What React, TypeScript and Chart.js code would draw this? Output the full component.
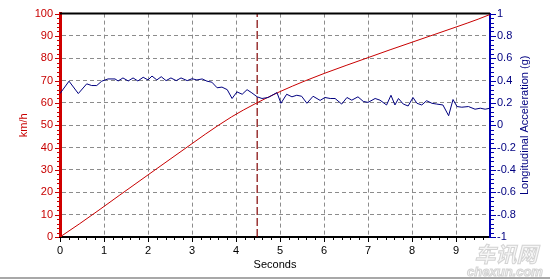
import React, { useEffect, useRef } from "react";
import { Chart, registerables } from "chart.js";

Chart.register(...registerables);

// ---- data ----
const speedTime = [0, 0.45, 0.91, 1.36, 2.0, 2.5, 3.0, 3.3, 3.9, 4.43, 5.0, 5.57, 6.0, 6.5, 7.0, 7.5, 8.0, 8.5, 9.0, 9.5, 9.77];
const speedKmh = [0, 6.0, 12.4, 18.8, 27.8, 34.8, 41.8, 46.0, 53.8, 59.6, 65.1, 69.9, 73.2, 76.8, 80.3, 83.8, 87.2, 90.6, 94, 97.5, 99.6];

const accelTime = [
  0, 0.205, 0.416, 0.607, 0.72, 0.834, 0.948, 1.09, 1.25, 1.32, 1.43, 1.55, 1.66, 1.77, 1.89, 2.0, 2.09, 2.2, 2.3, 2.41,
  2.52, 2.64, 2.75, 2.89, 3.0, 3.11, 3.23, 3.34, 3.45, 3.57, 3.68, 3.8, 3.91, 4.02, 4.14, 4.25, 4.36, 4.48, 4.59, 4.73,
  4.93, 5.02, 5.15, 5.27, 5.38, 5.49, 5.61, 5.75, 5.91, 6.02, 6.14, 6.25, 6.4, 6.52, 6.63, 6.77, 6.89, 7.0, 7.16, 7.27,
  7.42, 7.52, 7.61, 7.69, 7.8, 7.91, 8.02, 8.11, 8.22, 8.33, 8.45, 8.56, 8.7, 8.83, 8.93, 9.02, 9.13, 9.28, 9.43, 9.55,
  9.66, 9.77,
];
const accelG = [
  0.284, 0.395, 0.284, 0.371, 0.356, 0.356, 0.395, 0.415, 0.415, 0.397, 0.424, 0.397, 0.424, 0.397, 0.43, 0.406, 0.441, 0.406, 0.435, 0.4,
  0.424, 0.4, 0.424, 0.4, 0.417, 0.406, 0.415, 0.395, 0.386, 0.336, 0.342, 0.319, 0.24, 0.299, 0.278, 0.319, 0.29, 0.255, 0.24, 0.249,
  0.293, 0.197, 0.278, 0.255, 0.269, 0.26, 0.197, 0.26, 0.223, 0.249, 0.24, 0.24, 0.19, 0.249, 0.225, 0.255, 0.214, 0.205, 0.24, 0.225,
  0.182, 0.269, 0.182, 0.24, 0.19, 0.173, 0.249, 0.197, 0.182, 0.22, 0.197, 0.19, 0.182, 0.086, 0.231, 0.168, 0.162, 0.168, 0.144, 0.153,
  0.144, 0.153,
];

const markerTime = [4.48, 4.48];
const markerSpeed = [0, 100];

const xTickValues = [0, 1, 2, 3, 4, 5, 6, 7, 8, 9];
const leftTickValues = [0, 10, 20, 30, 40, 50, 60, 70, 80, 90, 100];
const rightTickValues = [-1, -0.8, -0.6, -0.4, -0.2, 0, 0.2, 0.4, 0.6, 0.8, 1];

const xTitle = "Seconds";
const leftTitle = "km/h";
const rightTitle = "Longitudinal Acceleration (g)";

const FONT = "'Liberation Sans', Arial, sans-serif";
const RED = "#c80000";
const NAVY = "#000080";

const decorPlugin = {
  id: "decor",
  afterDraw(chart: any) {
    const { ctx, chartArea, scales } = chart;
    const x = scales.x, y = scales.y, y2 = scales.y2;
    ctx.save();
    // top border
    ctx.strokeStyle = "#000";
    ctx.lineWidth = 2;
    ctx.beginPath();
    ctx.moveTo(chartArea.left, chartArea.top);
    ctx.lineTo(chartArea.right, chartArea.top);
    ctx.stroke();

    ctx.lineWidth = 1;
    // bottom ticks (minor each 0.2 s)
    ctx.strokeStyle = "#000";
    ctx.beginPath();
    for (let i = 0; i <= 48; i++) {
      const v = i * 0.2;
      if (v > x.max) break;
      const px = Math.round(x.getPixelForValue(v)) + 0.5;
      const major = i % 5 === 0;
      ctx.moveTo(px, chartArea.bottom + 1);
      ctx.lineTo(px, chartArea.bottom + (major ? 5 : 3));
    }
    ctx.stroke();

    // left ticks (minor each 2)
    ctx.strokeStyle = RED;
    ctx.beginPath();
    for (let i = 0; i <= 50; i++) {
      const v = i * 2;
      const py = Math.round(y.getPixelForValue(v)) + 0.5;
      const major = i % 5 === 0;
      ctx.moveTo(chartArea.left - 1, py);
      ctx.lineTo(chartArea.left - (major ? 5 : 3), py);
    }
    ctx.stroke();

    // right ticks (minor each 0.04)
    ctx.strokeStyle = "#0000b0";
    ctx.beginPath();
    for (let i = 0; i <= 50; i++) {
      const v = -1 + i * 0.04;
      const py = Math.round(y2.getPixelForValue(v)) + 0.5;
      const major = i % 5 === 0;
      ctx.moveTo(chartArea.right + 1, py);
      ctx.lineTo(chartArea.right + (major ? 6 : 4), py);
    }
    ctx.stroke();

    // titles
    ctx.font = `11px ${FONT}`;
    ctx.textAlign = "center";
    ctx.textBaseline = "middle";
    ctx.fillStyle = "#000";
    ctx.fillText(xTitle, (chartArea.left + chartArea.right) / 2, 265);

    ctx.save();
    ctx.translate(24, (chartArea.top + chartArea.bottom) / 2);
    ctx.rotate(-Math.PI / 2);
    ctx.fillStyle = RED;
    ctx.fillText(leftTitle, 0, 0);
    ctx.restore();

    ctx.save();
    ctx.translate(525, (chartArea.top + chartArea.bottom) / 2);
    ctx.rotate(-Math.PI / 2);
    ctx.fillStyle = NAVY;
    ctx.fillText(rightTitle, 0, 0);
    ctx.restore();

    // watermark
    ctx.textAlign = "center";
    ctx.textBaseline = "alphabetic";
    ctx.font = `bold italic 21px 'Noto Sans CJK SC', sans-serif`;
    ctx.fillStyle = "rgba(245,245,245,0.85)";
    ctx.strokeStyle = "rgba(205,205,205,0.85)";
    ctx.lineWidth = 1;
    ctx.fillText("车讯网", 506, 262);
    ctx.strokeText("车讯网", 506, 262);
    ctx.font = `bold italic 13px ${FONT}`;
    ctx.fillText("chexun.com", 505, 276);
    ctx.strokeText("chexun.com", 505, 276);

    // frame line at bottom
    ctx.strokeStyle = "#a8a8a8";
    ctx.lineWidth = 2;
    ctx.beginPath();
    ctx.moveTo(0, 278);
    ctx.lineTo(550, 278);
    ctx.stroke();
    ctx.restore();
  },
};

export default function App() {
  const canvasRef = useRef<HTMLCanvasElement | null>(null);

  useEffect(() => {
    if (!canvasRef.current) return;
    const chart = new Chart(canvasRef.current, {
      type: "line",
      data: {
        datasets: [
          {
            label: "Acceleration",
            data: accelTime.map((t, i) => ({ x: t, y: accelG[i] })),
            xAxisID: "x",
            yAxisID: "y2",
            borderColor: NAVY,
            borderWidth: 1,
            pointRadius: 0,
            tension: 0,
          },
          {
            label: "Speed",
            data: speedTime.map((t, i) => ({ x: t, y: speedKmh[i] })),
            xAxisID: "x",
            yAxisID: "y",
            borderColor: RED,
            borderWidth: 1,
            pointRadius: 0,
            cubicInterpolationMode: "monotone",
          },
          {
            label: "Marker",
            data: markerTime.map((t, i) => ({ x: t, y: markerSpeed[i] })),
            xAxisID: "x",
            yAxisID: "y",
            borderColor: "#800000",
            borderWidth: 1.2,
            borderDash: [8, 3],
            pointRadius: 0,
          },
        ],
      },
      options: {
        animation: false,
        responsive: false,
        devicePixelRatio: 1,
        layout: { padding: { top: 8, left: 0, right: 0, bottom: 0 } },
        plugins: { legend: { display: false }, tooltip: { enabled: false } },
        scales: {
          x: {
            type: "linear",
            position: "bottom",
            min: 0,
            max: 9.77,
            afterBuildTicks: (s: any) => {
              s.ticks = xTickValues.map((v) => ({ value: v }));
            },
            afterFit: (s: any) => {
              s.height = 43;
            },
            ticks: {
              color: "#000",
              font: { family: FONT, size: 11 },
              padding: 7,
              maxRotation: 0,
              autoSkip: false,
              includeBounds: false,
            },
            grid: {
              color: "#8c8c8c",
              lineWidth: (c: any) => (c.tick && c.tick.value === 0 ? 0 : 1),
              drawTicks: false,
            },
            border: { color: "#000", width: 2, dash: [4, 3] },
          },
          y: {
            type: "linear",
            position: "left",
            min: 0,
            max: 100,
            afterBuildTicks: (s: any) => {
              s.ticks = leftTickValues.map((v) => ({ value: v }));
            },
            afterFit: (s: any) => {
              s.width = 60;
            },
            ticks: {
              color: RED,
              font: { family: FONT, size: 11 },
              padding: 7,
              autoSkip: false,
            },
            grid: {
              color: "#8c8c8c",
              lineWidth: (c: any) => (c.tick && (c.tick.value === 0 || c.tick.value === 100) ? 0 : 1),
              drawTicks: false,
            },
            border: { color: "#d00000", width: 3, dash: [4, 3] },
          },
          y2: {
            type: "linear",
            position: "right",
            min: -1,
            max: 1,
            afterBuildTicks: (s: any) => {
              s.ticks = rightTickValues.map((v) => ({ value: v }));
            },
            afterFit: (s: any) => {
              s.width = 60;
            },
            ticks: {
              color: NAVY,
              font: { family: FONT, size: 11 },
              padding: 7,
              autoSkip: false,
              callback: (v: any) => String(Math.round(Number(v) * 10) / 10),
            },
            grid: { display: false, drawTicks: false },
            border: { color: "#0000b0", width: 2 },
          },
        },
      },
      plugins: [decorPlugin],
    } as any);
    return () => chart.destroy();
  }, []);

  return (
    <div style={{ position: "absolute", left: 0, top: 0, width: 550, height: 280, background: "#fff" }}>
      <canvas ref={canvasRef} width={550} height={280} style={{ display: "block" }} />
    </div>
  );
}
